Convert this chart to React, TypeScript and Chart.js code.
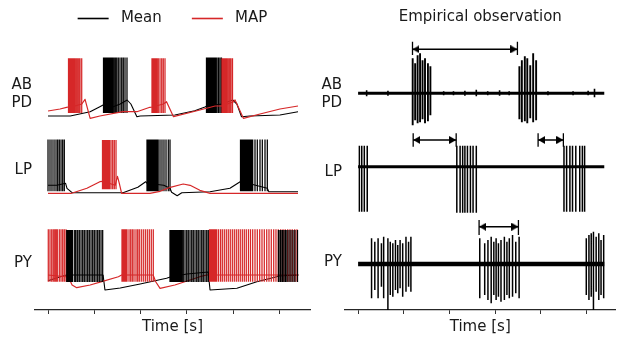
import React, { useEffect, useRef } from 'react';
import { Chart, registerables } from 'chart.js';

Chart.register(...registerables);

// ---------------- text / categories ----------------
const SERIES = ['Mean', 'MAP'];
const ROW_LABELS = [['AB', 'PD'], 'LP', 'PY'];
const TIME_TICKS = [0, 1, 2, 3, 4, 5];
const X_TITLE = 'Time [s]';
const RIGHT_TITLE = 'Empirical observation';

// ---------------- model traces (left) ----------------
// base waveform: [time s, level] ; spikes: times (s) ; spike range: [trough, peak]
const ABPD_MEAN_BASE = [[0, 0], [0.48, 0], [0.91, 4.3], [1.12, 9.3], [1.19, 11], [1.34, 8], [1.56, 12], [1.71, 16], [1.79, 12], [1.92, -0.7], [1.99, 0], [2.74, 1], [3.17, 5.3], [3.39, 9], [3.43, 10], [3.76, 12], [3.99, 16], [4.08, 12], [4.18, -0.7], [4.36, 0], [5.01, 1], [5.4, 4.3]];
const ABPD_MEAN_SPIKES = [1.199, 1.22, 1.242, 1.263, 1.285, 1.307, 1.328, 1.35, 1.371, 1.397, 1.425, 1.454, 1.484, 1.518, 1.555, 1.592, 1.626, 1.663, 1.706, 3.423, 3.445, 3.467, 3.488, 3.51, 3.531, 3.553, 3.575, 3.596, 3.622, 3.65, 3.683, 3.715, 3.747];
const ABPD_MEAN_RANGE = [3, 58.5];
const ABPD_MAP_BASE = [[0, 5], [0.26, 7], [0.4, 8.7], [0.44, 9], [0.58, 10], [0.73, 12], [0.8, 16.7], [0.91, -2.3], [1.12, 0], [1.62, 4.3], [1.92, 4.3], [2.2, 8.7], [2.25, 9], [2.49, 12], [2.56, 14.3], [2.71, -0.7], [3.28, 6], [3.61, 10], [3.75, 10], [4.0, 14], [4.04, 16], [4.22, -2.3], [4.58, 2], [5.01, 7], [5.4, 10]];
const ABPD_MAP_SPIKES = [0.443, 0.464, 0.486, 0.508, 0.529, 0.551, 0.577, 0.605, 0.633, 0.663, 0.691, 0.728, 2.246, 2.268, 2.289, 2.311, 2.333, 2.354, 2.382, 2.419, 2.456, 2.49, 2.527, 3.758, 3.78, 3.801, 3.823, 3.844, 3.866, 3.894, 3.924, 3.952, 3.985];
const ABPD_MAP_RANGE = [3, 57.7];

const LP_MEAN_BASE = [[0, 8], [0.19, 8], [0.38, 10], [0.41, 5], [0.52, 0.6], [1.62, 0.6], [1.94, 6], [2.11, 11.6], [2.14, 10], [2.5, 8], [2.635, 5], [2.67, 1], [2.79, -2.4], [2.89, 0.5], [3.5, 1.6], [3.93, 5], [4.15, 11.6], [4.4, 9], [4.737, 5], [4.77, 1.6], [5.4, 1.6]];
const LP_MEAN_SPIKES = [0, 0.043, 0.086, 0.13, 0.173, 0.209, 0.244, 0.281, 0.317, 0.352, 2.138, 2.16, 2.181, 2.203, 2.225, 2.246, 2.268, 2.289, 2.311, 2.333, 2.354, 2.38, 2.419, 2.462, 2.505, 2.549, 2.598, 2.635, 4.158, 4.179, 4.201, 4.222, 4.244, 4.266, 4.287, 4.309, 4.33, 4.352, 4.374, 4.395, 4.421, 4.471, 4.521, 4.579, 4.629, 4.687, 4.737];
const LP_MEAN_RANGE = [2, 53.8];
const LP_MAP_BASE = [[0, 0], [0.51, 0], [0.84, 5], [1.12, 11.6], [1.18, 12], [1.45, 8], [1.5, 17], [1.54, 10], [1.59, 0], [2.2, 0], [2.42, 2], [2.64, 6], [2.92, 9.3], [3.07, 8], [3.28, 3], [3.5, 0], [5.4, 0]];
const LP_MAP_SPIKES = [1.177, 1.199, 1.22, 1.242, 1.263, 1.285, 1.307, 1.328, 1.361, 1.397, 1.432, 1.469];
const LP_MAP_RANGE = [4, 53.3];

const PY_MEAN_BASE = [[0, 9.3], [0.32, 14], [0.4, 15], [1.19, 15], [1.23, 0], [1.56, 2], [1.99, 6], [2.56, 11.7], [2.64, 13], [3.0, 16], [3.46, 18], [3.5, 0], [4.08, 1.7], [4.51, 8.3], [4.94, 13.3], [4.97, 14], [5.41, 15]];
const PY_MEAN_SPIKES = [0.404, 0.425, 0.447, 0.469, 0.49, 0.512, 0.533, 0.577, 0.605, 0.641, 0.676, 0.713, 0.749, 0.784, 0.821, 0.857, 0.892, 0.929, 0.965, 1.0, 1.037, 1.073, 1.108, 1.145, 1.181, 2.635, 2.657, 2.678, 2.7, 2.721, 2.743, 2.765, 2.786, 2.808, 2.829, 2.851, 2.873, 2.894, 2.922, 2.959, 2.996, 3.03, 3.067, 3.104, 3.138, 3.175, 3.212, 3.246, 3.283, 3.32, 3.354, 3.391, 3.428, 3.462, 4.978, 5.011, 5.032, 5.065, 5.097, 5.13, 5.162, 5.205, 5.248, 5.292, 5.335, 5.389];
const PY_MEAN_RANGE = [8, 60];
const PY_MAP_BASE = [[0, 15], [0.44, 13], [0.52, 5], [0.62, 2.3], [0.91, 5], [1.16, 8.3], [1.52, 13.3], [1.59, 15], [2.27, 15], [2.33, 8], [2.42, 1.7], [2.74, 5], [3.07, 10], [3.28, 13.3], [3.43, 15], [5.41, 15]];
const PY_MAP_SPIKES = [0.006, 0.043, 0.08, 0.114, 0.145, 0.173, 0.201, 0.244, 0.281, 0.317, 0.352, 0.389, 1.598, 1.62, 1.641, 1.663, 1.685, 1.706, 1.75, 1.786, 1.821, 1.857, 1.901, 1.937, 1.972, 2.015, 2.058, 2.102, 2.145, 2.188, 2.231, 2.274, 3.488, 3.51, 3.531, 3.553, 3.575, 3.596, 3.618, 3.644, 3.683, 3.726, 3.765, 3.808, 3.851, 3.894, 3.937, 3.981, 4.024, 4.067, 4.11, 4.153, 4.197, 4.24, 4.283, 4.33, 4.374, 4.421, 4.471, 4.521, 4.572, 4.622, 4.672, 4.724, 4.773, 4.823, 4.875, 4.924, 4.974, 5.026, 5.076, 5.125, 5.177, 5.227, 5.276, 5.328, 5.378];
const PY_MAP_RANGE = [8.3, 60.7];

// ---------------- empirical recordings (right) ----------------
// spikes: [time s, upper excursion, lower excursion]
const OBS_SPAN = [0, 5.394];
const ABPD_OBS_SPIKES = [[1.196, 35, -32], [1.25, 30, -27], [1.304, 38, -30], [1.358, 40, -29], [1.412, 33, -26], [1.466, 35, -30], [1.53, 30, -28], [1.584, 27, -22], [3.534, 27, -26], [3.588, 33, -29], [3.653, 37, -28], [3.707, 35, -30], [3.772, 28, -25], [3.836, 40, -29], [3.901, 33, -27]];
const ABPD_OBS_NOISE = [[0.187, 3, -3], [0.654, 2.5, -2.5], [1.875, 2, -2], [2.09, 2, -2], [2.34, 2.5, -2.5], [2.59, 3.5, -3], [2.84, 2, -2], [3.1, 3, -2.5], [3.31, 2, -2], [4.16, 2, -2], [4.71, 2, -2], [5.04, 2.5, -2], [5.18, 4.5, -4]];
const LP_OBS_SPIKES = [[0.028, 21, -45], [0.08, 21, -45], [0.136, 21, -45], [0.2, 21, -45], [2.163, 21, -46], [2.235, 21, -46], [2.291, 21, -46], [2.34, 21, -46], [2.396, 21, -46], [2.461, 21, -46], [2.519, 21, -46], [2.59, 21, -46], [4.511, 21, -45], [4.569, 21, -45], [4.641, 21, -45], [4.698, 21, -45], [4.77, 21, -45], [4.856, 21, -45], [4.914, 21, -45], [4.963, 21, -45]];
const PY_OBS_SPIKES = [[0.295, 25.7, -34.3], [0.366, 22.3, -26], [0.438, 25.7, -34.3], [0.511, 20.7, -22.7], [0.56, 27.3, -34.3], [0.653, 25.7, -46], [0.705, 22.3, -31], [0.761, 20.7, -32.7], [0.819, 24, -26], [0.869, 19, -29.3], [0.92, 24, -24.3], [0.977, 20.7, -32.7], [1.049, 27.3, -27.7], [1.106, 22.3, -22.7], [1.157, 27.3, -27.7], [2.666, 25.7, -34.3], [2.774, 20.7, -31], [2.845, 24, -36], [2.916, 27.3, -39.3], [2.974, 22.3, -31], [3.024, 25.7, -36], [3.075, 20.7, -32.7], [3.131, 24, -37.7], [3.205, 27.3, -36], [3.261, 22.3, -31], [3.313, 25.7, -34.3], [3.384, 29, -32.7], [3.455, 22.3, -29.3], [3.528, 27.3, -34.3], [5.0, 25.7, -31], [5.058, 29, -36], [5.108, 30.7, -32.7], [5.157, 32.3, -46], [5.216, 27.3, -27.7], [5.274, 30.7, -36], [5.323, 24, -31], [5.381, 29, -34.3]];
// arrows: [row, start s, end s, level, end-bar low, end-bar high]
const ARROWS = [[0, 1.192, 3.491, 44, 38.3, 51.6], [1, 1.207, 2.149, 26.7, 20, 33.4], [1, 3.944, 4.498, 26.7, 20, 33.4], [2, 2.651, 3.513, 37.3, 29, 44]];

// ---------------- layout / style constants ----------------
const FONT = 'DejaVu Sans';
const FS = 15;
const TEXT = '#1a1a1a';
const COLORS = ['#000000', '#d62728'];
const W = 621;
const H = 339;
const LEFT_X = [-0.281, 5.659];
const RIGHT_X = [-0.287, 5.64];
const LEFT_Y_MAX = 274;
const RIGHT_Y_MAX = 270;
const LEFT_ROW_OFFSET = [194, 116.7, 20];
const RIGHT_ROW_OFFSET = [216.7, 143.3, 46];
const LEFT_LABEL_POS = [216, 140, 47];
const RIGHT_LABEL_POS = [216, 138, 48];

const baseData = (pts, off) => pts.map(([t, v]) => ({ x: t, y: v + off }));
const spikeData = (times, range, off) =>
  times.flatMap((t) => [{ x: t, y: range[0] + off }, { x: t, y: range[1] + off }, { x: t, y: null }]);
const obsSpikeData = (spikes, off) =>
  spikes.flatMap(([t, hi, lo]) => [{ x: t, y: lo + off }, { x: t, y: hi + off }, { x: t, y: null }]);

const lineDs = (data, color, width) => ({
  data,
  borderColor: color,
  backgroundColor: color,
  borderWidth: width,
  pointRadius: 0,
  pointHoverRadius: 0,
  fill: false,
  tension: 0,
  spanGaps: false,
  borderCapStyle: 'butt',
  borderJoinStyle: 'round',
});

const withOrder = (list) => list.map((d, i) => ({ ...d, order: list.length - i }));

function makeHead(dir) {
  const L = 7;
  const HW = 4;
  const c = document.createElement('canvas');
  c.width = 2 * L;
  c.height = 2 * HW;
  const g = c.getContext('2d');
  g.fillStyle = '#000';
  g.beginPath();
  if (dir > 0) {
    g.moveTo(0, 0);
    g.lineTo(L, HW);
    g.lineTo(0, 2 * HW);
  } else {
    g.moveTo(2 * L, 0);
    g.lineTo(L, HW);
    g.lineTo(2 * L, 2 * HW);
  }
  g.closePath();
  g.fill();
  return c;
}

function xScale(range) {
  return {
    type: 'linear',
    min: range[0],
    max: range[1],
    afterBuildTicks: (s) => {
      s.ticks = TIME_TICKS.map((v) => ({ value: v }));
    },
    afterFit: (s) => {
      s.height = 29;
      s.paddingLeft = 0;
      s.paddingRight = 0;
    },
    ticks: { display: false },
    grid: { display: true, drawOnChartArea: false, drawTicks: true, tickLength: 4, color: '#333333', lineWidth: 1 },
    border: { display: true, color: '#262626', width: 1.25 },
    title: { display: true, text: X_TITLE, color: TEXT, font: { family: FONT, size: FS }, padding: { top: 0, bottom: 3.2 } },
  };
}

function yScale(max, labelPos) {
  return {
    type: 'linear',
    min: 0,
    max,
    afterBuildTicks: (s) => {
      s.ticks = labelPos.map((v) => ({ value: v }));
    },
    afterFit: (s) => {
      s.width = 35;
      s.paddingTop = 0;
      s.paddingBottom = 0;
    },
    ticks: {
      autoSkip: false,
      padding: 3,
      color: TEXT,
      font: { family: FONT, size: FS },
      callback: (_v, i) => ROW_LABELS[i],
    },
    grid: { display: false, drawTicks: false },
    border: { display: false },
  };
}

export default function App() {
  const leftRef = useRef(null);
  const rightRef = useRef(null);

  useEffect(() => {
    const [MEAN, MAP] = COLORS;
    const lo = LEFT_ROW_OFFSET;
    const SW = 1.25;
    const leftSets = withOrder([
      lineDs(baseData(ABPD_MEAN_BASE, lo[0]), MEAN, 1.1),
      lineDs(spikeData(ABPD_MEAN_SPIKES, ABPD_MEAN_RANGE, lo[0]), MEAN, SW),
      lineDs(baseData(LP_MEAN_BASE, lo[1]), MEAN, 1.1),
      lineDs(spikeData(LP_MEAN_SPIKES, LP_MEAN_RANGE, lo[1]), MEAN, SW),
      lineDs(baseData(PY_MEAN_BASE, lo[2]), MEAN, 1.1),
      lineDs(baseData(ABPD_MAP_BASE, lo[0]), MAP, 1.2),
      lineDs(spikeData(ABPD_MAP_SPIKES, ABPD_MAP_RANGE, lo[0]), MAP, SW),
      lineDs(baseData(LP_MAP_BASE, lo[1]), MAP, 1.2),
      lineDs(spikeData(LP_MAP_SPIKES, LP_MAP_RANGE, lo[1]), MAP, SW),
      lineDs(baseData(PY_MAP_BASE, lo[2]), MAP, 1.2),
      lineDs(spikeData(PY_MAP_SPIKES, PY_MAP_RANGE, lo[2]), MAP, SW),
      lineDs(spikeData(PY_MEAN_SPIKES, PY_MEAN_RANGE, lo[2]), MEAN, SW),
    ]);

    const left = new Chart(leftRef.current, {
      type: 'line',
      data: { datasets: leftSets },
      options: {
        responsive: false,
        animation: false,
        events: [],
        layout: { padding: { left: 0, right: W - 310, top: 0, bottom: 0 } },
        plugins: {
          tooltip: { enabled: false },
          title: { display: false },
          legend: {
            display: true,
            position: 'top',
            fullSize: false,
            labels: {
              usePointStyle: true,
              pointStyleWidth: 31,
              padding: 11,
              color: TEXT,
              font: { family: FONT, size: FS },
              generateLabels: () =>
                SERIES.map((name, i) => ({
                  text: ' ' + name + (i < SERIES.length - 1 ? '    ' : ''),
                  fillStyle: COLORS[i],
                  strokeStyle: COLORS[i],
                  lineWidth: 1.6,
                  pointStyle: 'line',
                  hidden: false,
                  fontColor: TEXT,
                  datasetIndex: i,
                })),
            },
          },
        },
        scales: { x: xScale(LEFT_X), y: yScale(LEFT_Y_MAX, LEFT_LABEL_POS) },
      },
    });

    const ro = RIGHT_ROW_OFFSET;
    const baseLine = (off, w) => lineDs(OBS_SPAN.map((t) => ({ x: t, y: off })), '#000', w);
    const headL = makeHead(-1);
    const headR = makeHead(1);
    const arrowSets = ARROWS.flatMap(([row, s, e, lev, bLo, bHi]) => {
      const off = ro[row];
      return [
        {
          ...lineDs([{ x: s, y: lev + off }, { x: e, y: lev + off }], '#000', 1.5),
          pointRadius: 4,
          pointStyle: [headL, headR],
        },
        lineDs(
          [
            { x: s, y: bLo + off },
            { x: s, y: bHi + off },
            { x: s, y: null },
            { x: e, y: bLo + off },
            { x: e, y: bHi + off },
          ],
          '#000',
          1.3
        ),
      ];
    });

    const rightSets = withOrder([
      baseLine(ro[0], 3),
      lineDs(obsSpikeData(ABPD_OBS_NOISE, ro[0]), '#000', 1.6),
      lineDs(obsSpikeData(ABPD_OBS_SPIKES, ro[0]), '#000', 1.9),
      baseLine(ro[1], 3),
      lineDs(obsSpikeData(LP_OBS_SPIKES, ro[1]), '#000', 1.5),
      baseLine(ro[2], 4.5),
      lineDs(obsSpikeData(PY_OBS_SPIKES, ro[2]), '#000', 1.5),
      ...arrowSets,
    ]);

    const right = new Chart(rightRef.current, {
      type: 'line',
      data: { datasets: rightSets },
      options: {
        responsive: false,
        animation: false,
        events: [],
        layout: { padding: { left: 310, right: 1, top: 0, bottom: 0 } },
        plugins: {
          tooltip: { enabled: false },
          legend: { display: false },
          title: {
            display: true,
            text: RIGHT_TITLE,
            fullSize: false,
            color: TEXT,
            font: { family: FONT, size: FS, weight: 'normal' },
            padding: { top: 8, bottom: 14 },
          },
        },
        scales: { x: xScale(RIGHT_X), y: yScale(RIGHT_Y_MAX, RIGHT_LABEL_POS) },
      },
    });

    return () => {
      left.destroy();
      right.destroy();
    };
  }, []);

  return (
    <div style={{ position: 'fixed', left: 0, top: 0, width: W, height: H, background: '#fff', overflow: 'hidden' }}>
      <canvas ref={leftRef} width={W} height={H} style={{ position: 'absolute', left: 0, top: 0 }} />
      <canvas ref={rightRef} width={W} height={H} style={{ position: 'absolute', left: 0, top: 0 }} />
    </div>
  );
}
